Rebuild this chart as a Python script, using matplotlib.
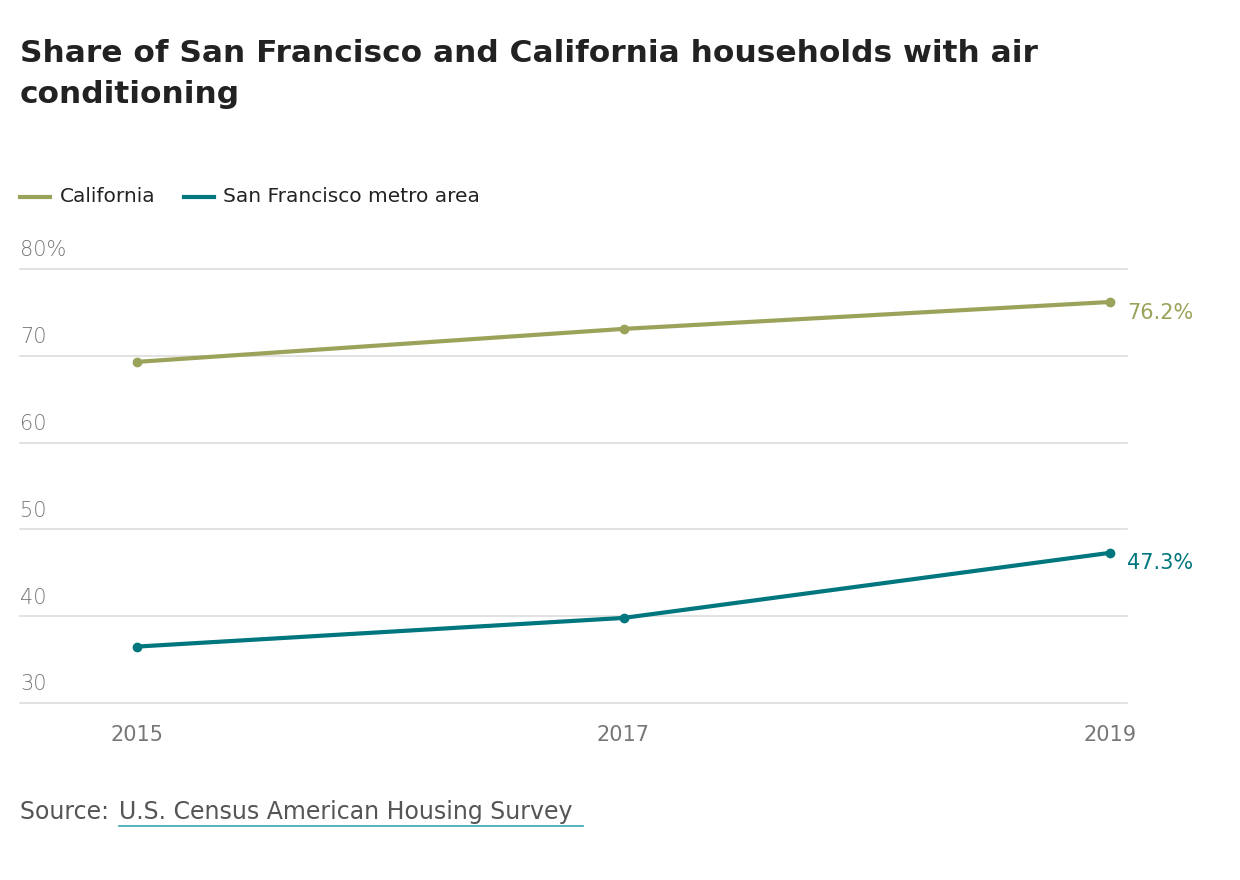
import matplotlib.pyplot as plt

years = [2015, 2017, 2019]
california = [69.3, 73.1, 76.2]
san_francisco = [36.5, 39.8, 47.3]
y_ticks = [30, 40, 50, 60, 70, 80]

ca_color = '#9ba35b'
sf_color = '#00767e'
grid_color = '#dddddd'
tick_color = '#777777'
num_font = 'DejaVu Sans'

fig = plt.figure(figsize=(12.4, 8.8), dpi=100)
ax = fig.add_axes([20 / 1240, 177 / 880, 1107 / 1240, 434 / 880])
ax.set_xlim(2015 - 117 / 243.25, 2019 + 17 / 243.25)
ax.set_ylim(30, 80)

for v in y_ticks:
    ax.axhline(v, color=grid_color, lw=1.2, zorder=0, clip_on=False)
    label = f'{v}%' if v == 80 else str(v)
    ax.text(2015 - 117 / 243.25, v + 1.0, label, color=tick_color, fontsize=15,
            ha='left', va='bottom', family=num_font, fontweight='light')

ax.plot(years, california, color=ca_color, lw=3, marker='o', ms=6, clip_on=False)
ax.plot(years, san_francisco, color=sf_color, lw=3, marker='o', ms=6, clip_on=False)
ax.text(2019.07, california[-1] - 1.3, f'{california[-1]}%', color=ca_color,
        fontsize=15, va='center', family=num_font)
ax.text(2019.07, san_francisco[-1] - 1.2, f'{san_francisco[-1]}%', color=sf_color,
        fontsize=15, va='center', family=num_font)

for yr in years:
    ax.text(yr, 27.5, str(yr), color=tick_color, fontsize=15, ha='center',
            va='top', family=num_font)

for s in ax.spines.values():
    s.set_visible(False)
ax.set_xticks([])
ax.set_yticks([])

fig.text(20 / 1240, 1 - 74 / 880, 'Share of San Francisco and California households with air\nconditioning',
         fontsize=22.5, fontweight='bold', color='#222222', va='center', linespacing=1.55)

# legend
fig.lines.append(plt.Line2D([20 / 1240, 50 / 1240], [1 - 197 / 880] * 2, color=ca_color, lw=3,
                            transform=fig.transFigure))
fig.text(60 / 1240, 1 - 197 / 880, 'California', fontsize=14.5, va='center', color='#222222')
fig.lines.append(plt.Line2D([184 / 1240, 214 / 1240], [1 - 197 / 880] * 2, color=sf_color, lw=3,
                            transform=fig.transFigure))
fig.text(223 / 1240, 1 - 197 / 880, 'San Francisco metro area', fontsize=14.5, va='center',
         color='#222222')

fig.text(20 / 1240, 1 - 812 / 880, 'Source: ', fontsize=17, va='center', color='#555555')
fig.text(119 / 1240, 1 - 812 / 880, 'U.S. Census American Housing Survey', fontsize=17,
         va='center', color='#555555')
fig.lines.append(plt.Line2D([119 / 1240, 583 / 1240], [1 - 826 / 880] * 2, color='#3aa6b0', lw=1.2,
                            transform=fig.transFigure))

fig.savefig('out.png', dpi=100)
